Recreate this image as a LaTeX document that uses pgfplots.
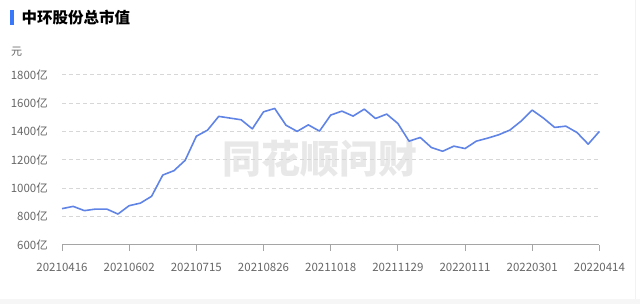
\documentclass[border=0pt]{standalone}
\usepackage{pgfplots}
\pgfplotsset{compat=1.18}
\usepackage{fontspec}
\setmainfont{Noto Sans CJK SC}
\definecolor{linec}{RGB}{96,132,230}
\definecolor{titleblue}{RGB}{58,120,250}
\definecolor{lblgray}{RGB}{102,102,102}
\definecolor{gridgray}{RGB}{215,215,215}
\definecolor{axisgray}{RGB}{165,165,165}
\definecolor{wm}{RGB}{232,232,232}
\begin{document}
\begin{tikzpicture}
\path[use as bounding box] (0pt,0pt) rectangle (640pt,-304pt);
\fill[gray!7] (0pt,-299pt) rectangle (640pt,-304pt);
\draw[gray!10, line width=0.8pt] (635.5pt,0pt) -- (635.5pt,-299pt);
\fill[titleblue] (10pt,-10pt) rectangle (13.5pt,-25pt);
\node[anchor=west, inner sep=0pt, font=\fontsize{15.5}{17}\selectfont\bfseries] at (21.5pt,-17.5pt) {中环股份总市值};
\node[anchor=west, inner sep=0pt, text=lblgray, font=\fontsize{11}{12}\selectfont] at (11pt,-52pt) {元};
\node[inner sep=0pt, text=wm, font=\fontsize{39}{40}\selectfont\bfseries] at (320pt,-159pt) {同花顺问财};
\begin{axis}[
  at={(62pt,-244.8pt)}, anchor=south west,
  scale only axis, width=537.4pt, height=170.1pt,
  xmin=0, xmax=48, ymin=600, ymax=1800,
  clip=false,
  axis x line*=bottom, axis y line*=left,
  y axis line style={draw=none},
  x axis line style={draw=axisgray, line width=0.8pt, -},
  xtick={0,6,...,48},
  xticklabels={20210416,20210602,20210715,20210826,20211018,20211129,20220111,20220301,20220414},
  xtick style={draw=axisgray, line width=0.8pt},
  x tick label style={font=\fontsize{11.5}{12}\selectfont, text=lblgray, anchor=north, inner sep=0pt, yshift=-12pt},
  xtick align=outside, major tick length=6pt,
  ytick={600,800,...,1800},
  yticklabels={600亿,800亿,1000亿,1200亿,1400亿,1600亿,1800亿},
  ytick style={draw=none},
  y tick label style={font=\fontsize{11.5}{12}\selectfont, text=lblgray, anchor=east, inner sep=0pt, xshift=-14pt},
  ymajorgrids,
  y grid style={draw=gridgray, line width=0.8pt, dash pattern=on 4pt off 3pt},
]
\addplot[linec, line width=1.6pt, line join=round] coordinates {
(0,855)(1,871)(2,841)(3,852)(4,852)(5,817)(6,876)(7,894)(8,942)(9,1092)
(10,1123)(11,1196)(12,1366)(13,1409)(14,1506)(15,1494)(16,1482)(17,1418)(18,1538)(19,1562)
(20,1444)(21,1400)(22,1446)(23,1402)(24,1515)(25,1543)(26,1508)(27,1557)(28,1491)(29,1522)
(30,1456)(31,1331)(32,1357)(33,1286)(34,1260)(35,1296)(36,1279)(37,1331)(38,1352)(39,1376)
(40,1409)(41,1472)(42,1550)(43,1494)(44,1428)(45,1437)(46,1392)(47,1310)(48,1400)
};
\end{axis}
\end{tikzpicture}
\end{document}
